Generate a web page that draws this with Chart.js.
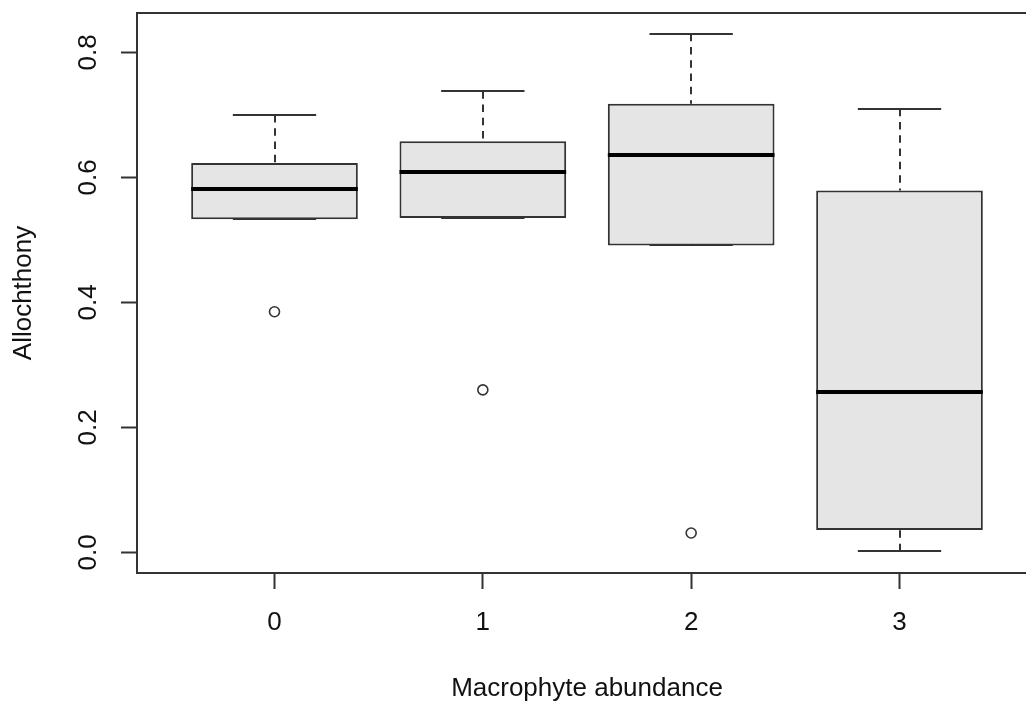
<!DOCTYPE html>
<html>
<head>
<meta charset="utf-8">
<title>Allochthony by macrophyte abundance</title>
<script src="https://cdn.jsdelivr.net/npm/chart.js@4.4.1/dist/chart.umd.min.js"></script>
<style>
  html, body { margin: 0; padding: 0; background: #fff; overflow: hidden; }
  #wrap { width: 1026px; height: 704px; overflow: hidden; }
  canvas { display: block; }
</style>
</head>
<body>
<div id="wrap"><canvas id="chart" width="1040" height="704"></canvas></div>
<script>
// five-number summaries per macrophyte abundance class
const groups = [0, 1, 2, 3];
const groupLabels = ['0', '1', '2', '3'];
const lowerWhisker = [0.533, 0.535, 0.491, 0.002];
const lowerHinge = [0.533, 0.535, 0.491, 0.036];
const medians = [0.582, 0.609, 0.636, 0.256];
const upperHinge = [0.623, 0.658, 0.718, 0.579];
const upperWhisker = [0.700, 0.738, 0.830, 0.710];

// points beyond the whiskers
const outlierGroup = [0, 1, 2];
const outlierValue = [0.385, 0.260, 0.031];

const yTickValues = [0.0, 0.2, 0.4, 0.6, 0.8];

const INK = '#333';
const LW = 2;
const FONT = { family: '"Liberation Sans", Arial, sans-serif', size: 26 };
const BOX_WIDTH = 0.8;   // in x units, like boxwex
const STAPLE = 0.4;      // whisker cap width in x units

// dashed whiskers + caps go underneath the boxes
const whiskers = {
  id: 'whiskers',
  beforeDatasetsDraw(chart) {
    const { ctx, scales: { x, y } } = chart;
    ctx.save();
    ctx.strokeStyle = INK;
    ctx.lineWidth = LW;
    const seg = (x1, y1, x2, y2) => {
      ctx.beginPath(); ctx.moveTo(x1, y1); ctx.lineTo(x2, y2); ctx.stroke();
    };
    groups.forEach((g, i) => {
      const cx = Math.round(x.getPixelForValue(g));
      ctx.setLineDash([7.5, 5.8]);
      seg(cx, y.getPixelForValue(upperWhisker[i]), cx, y.getPixelForValue(upperHinge[i]));
      seg(cx, y.getPixelForValue(lowerWhisker[i]), cx, y.getPixelForValue(lowerHinge[i]));
      ctx.setLineDash([]);
      const l = x.getPixelForValue(g - STAPLE / 2);
      const r = x.getPixelForValue(g + STAPLE / 2);
      const top = Math.round(y.getPixelForValue(upperWhisker[i]));
      const bot = Math.round(y.getPixelForValue(lowerWhisker[i]));
      seg(l, top, r, top);
      seg(l, bot, r, bot);
    });
    ctx.restore();
  },
  afterDatasetsDraw(chart) {
    // thick median bars on top of the boxes
    const { ctx, scales: { x, y } } = chart;
    ctx.save();
    ctx.strokeStyle = '#000';
    ctx.lineWidth = 4;
    groups.forEach((g, i) => {
      const py = Math.round(y.getPixelForValue(medians[i]));
      ctx.beginPath();
      ctx.moveTo(x.getPixelForValue(g - BOX_WIDTH / 2), py);
      ctx.lineTo(x.getPixelForValue(g + BOX_WIDTH / 2), py);
      ctx.stroke();
    });
    ctx.restore();
  }
};

// plot frame
const frame = {
  id: 'frame',
  afterDraw(chart) {
    const { ctx, chartArea: a } = chart;
    ctx.save();
    ctx.strokeStyle = INK;
    ctx.lineWidth = LW;
    ctx.strokeRect(a.left, a.top, a.right - a.left, a.bottom - a.top);
    ctx.restore();
  }
};

const boxData = groups.map((g, i) => ({ x: g, y: [lowerHinge[i], upperHinge[i]] }));
const outlierData = outlierGroup.map((g, i) => ({ x: g, y: outlierValue[i] }));

new Chart(document.getElementById('chart'), {
  type: 'bar',
  data: {
    datasets: [
      {
        type: 'bar',
        data: boxData,
        backgroundColor: '#e5e5e5',
        borderColor: INK,
        borderWidth: LW,
        borderSkipped: false,
        categoryPercentage: 1,
        barPercentage: BOX_WIDTH
      },
      {
        type: 'scatter',
        data: outlierData,
        pointRadius: 5,
        pointBorderWidth: 1.6,
        pointBorderColor: INK,
        pointBackgroundColor: 'rgba(0,0,0,0)'
      }
    ]
  },
  options: {
    responsive: false,
    animation: false,
    layout: { autoPadding: false, padding: { top: 13, right: 3, left: 0, bottom: 0 } },
    plugins: { legend: { display: false }, tooltip: { enabled: false } },
    scales: {
      x: {
        type: 'linear',
        min: -0.66,
        max: 3.66,
        offset: false,
        border: { display: false },
        grid: { offset: false, drawOnChartArea: false, drawTicks: true, tickLength: 16, tickWidth: LW, tickColor: INK },
        afterBuildTicks: s => { s.ticks = groups.map(v => ({ value: v })); },
        afterFit: s => { s.height = 131; s.paddingLeft = s.paddingRight = 0; },
        ticks: {
          callback: (v, i) => groupLabels[i],
          color: '#111',
          font: FONT,
          padding: 18,
          maxRotation: 0,
          autoSkip: false
        },
        title: {
          display: true,
          text: 'Macrophyte abundance',
          color: '#111',
          font: FONT,
          padding: { top: 0, bottom: 0 }
        }
      },
      y: {
        type: 'linear',
        min: -0.033,
        max: 0.863,
        border: { display: false },
        grid: { drawOnChartArea: false, drawTicks: true, tickLength: 16, tickWidth: LW, tickColor: INK },
        afterBuildTicks: s => { s.ticks = yTickValues.map(v => ({ value: v })); },
        afterFit: s => { s.width = 137; s.paddingTop = s.paddingBottom = 0; },
        ticks: {
          callback: v => v.toFixed(1),
          color: '#111',
          font: FONT,
          padding: 14,
          minRotation: 90,
          maxRotation: 90,
          crossAlign: 'center',
          autoSkip: false
        },
        title: {
          display: true,
          text: 'Allochthony',
          color: '#111',
          font: FONT,
          padding: { top: 8, bottom: 0 }
        }
      }
    }
  },
  plugins: [whiskers, frame]
});
</script>
</body>
</html>
